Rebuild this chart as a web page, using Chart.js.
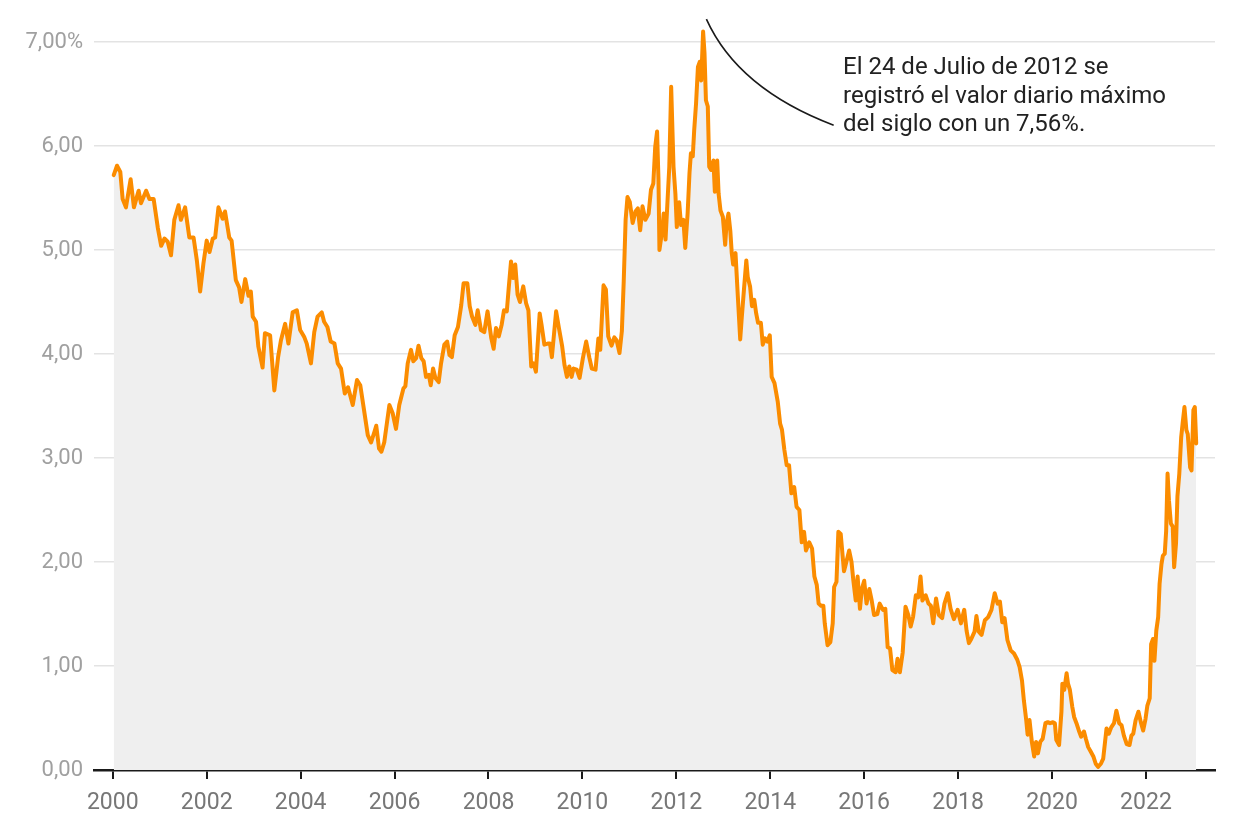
<!DOCTYPE html>
<html>
<head>
<meta charset="utf-8">
<script src="https://cdn.jsdelivr.net/npm/chart.js@4.4.0/dist/chart.umd.min.js"></script>
<style>
  html, body { margin: 0; padding: 0; background: #fff; }
  #wrap { position: relative; width: 1240px; height: 840px; }
  #nota {
    position: absolute; left: 843px; top: 52px;
    font-family: Roboto, sans-serif; font-size: 24px; line-height: 28.5px;
    color: #222;
  }
</style>
</head>
<body>
<div id="wrap">
  <canvas id="grafico" width="1240" height="840"></canvas>
  <div id="nota">El 24 de Julio de 2012 se<br>registró el valor diario máximo<br>del siglo con un 7,56%.</div>
</div>
<script>
// fechas en años decimales, rendimiento en %
var fechas = [
  2000.02,2000.09,2000.16,2000.21,2000.28,2000.38,2000.45,2000.55,2000.60,2000.71,2000.78,2000.87,2000.96,
  2001.03,2001.10,2001.17,2001.24,2001.31,2001.40,2001.45,2001.54,2001.63,2001.72,2001.79,2001.86,2001.93,
  2002.00,2002.06,2002.13,2002.18,2002.25,2002.34,2002.39,2002.48,2002.53,2002.62,2002.69,2002.74,2002.82,2002.89,2002.94,2002.98,
  2003.05,2003.10,2003.19,2003.24,2003.35,2003.44,2003.52,2003.58,2003.67,2003.74,2003.83,2003.92,2003.99,
  2004.08,2004.13,2004.22,2004.29,2004.36,2004.45,2004.50,2004.57,2004.64,2004.72,2004.79,2004.86,2004.94,
  2005.01,2005.11,2005.20,2005.27,2005.35,2005.43,2005.50,2005.57,2005.61,2005.67,2005.72,2005.78,2005.89,2005.96,
  2006.03,2006.10,2006.19,2006.23,2006.28,2006.35,2006.40,2006.46,2006.51,2006.57,2006.62,2006.67,2006.73,2006.77,2006.82,2006.87,2006.94,2006.99,
  2007.06,2007.12,2007.17,2007.22,2007.28,2007.35,2007.42,2007.47,2007.55,2007.60,2007.65,2007.72,2007.77,2007.84,2007.91,2007.98,
  2008.06,2008.11,2008.16,2008.22,2008.28,2008.33,2008.39,2008.43,2008.48,2008.52,2008.57,2008.62,2008.67,2008.74,2008.80,2008.85,2008.91,2008.96,
  2009.01,2009.09,2009.13,2009.19,2009.26,2009.31,2009.35,2009.44,2009.50,2009.57,2009.62,2009.67,2009.72,2009.77,2009.81,2009.88,2009.94,
  2010.01,2010.08,2010.15,2010.20,2010.28,2010.34,2010.38,2010.45,2010.50,2010.55,2010.62,2010.68,2010.73,2010.79,2010.84,2010.88,2010.92,2010.96,
  2011.01,2011.07,2011.13,2011.18,2011.23,2011.28,2011.34,2011.41,2011.46,2011.51,2011.55,2011.59,2011.62,2011.64,2011.70,2011.73,2011.77,2011.82,2011.85,2011.89,2011.94,2011.98,
  2012.01,2012.06,2012.10,2012.15,2012.19,2012.24,2012.28,2012.31,2012.35,2012.38,2012.42,2012.46,2012.50,2012.53,2012.57,2012.60,2012.63,2012.67,2012.70,2012.74,2012.79,2012.82,2012.87,2012.90,2012.94,2012.99,
  2013.04,2013.07,2013.11,2013.15,2013.18,2013.21,2013.26,2013.31,2013.36,2013.39,2013.44,2013.49,2013.52,2013.57,2013.61,2013.66,2013.70,2013.74,2013.80,2013.84,2013.89,2013.94,2013.99,
  2014.03,2014.09,2014.16,2014.21,2014.25,2014.30,2014.35,2014.40,2014.45,2014.51,2014.56,2014.62,2014.67,2014.72,2014.76,2014.83,2014.89,2014.94,2014.99,
  2015.03,2015.08,2015.13,2015.16,2015.22,2015.28,2015.33,2015.36,2015.41,2015.45,2015.50,2015.57,2015.62,2015.68,2015.73,2015.77,2015.82,2015.86,2015.91,2015.95,
  2016.00,2016.05,2016.11,2016.16,2016.21,2016.28,2016.33,2016.40,2016.45,2016.50,2016.55,2016.60,2016.67,2016.71,2016.76,2016.82,2016.88,2016.94,2016.99,
  2017.04,2017.10,2017.15,2017.20,2017.24,2017.31,2017.37,2017.42,2017.47,2017.53,2017.59,2017.66,2017.71,2017.78,2017.84,2017.91,2017.99,
  2018.06,2018.13,2018.18,2018.23,2018.28,2018.35,2018.39,2018.44,2018.50,2018.57,2018.64,2018.71,2018.78,2018.84,2018.89,2018.94,2018.99,
  2019.05,2019.12,2019.19,2019.26,2019.31,2019.36,2019.40,2019.45,2019.48,2019.52,2019.57,2019.62,2019.66,2019.70,2019.75,2019.80,2019.86,2019.91,2019.96,
  2020.02,2020.06,2020.09,2020.15,2020.20,2020.22,2020.26,2020.31,2020.34,2020.38,2020.43,2020.47,2020.52,2020.57,2020.62,2020.68,2020.72,2020.77,2020.82,2020.88,2020.93,2020.98,
  2021.04,2021.09,2021.16,2021.21,2021.26,2021.32,2021.37,2021.43,2021.48,2021.53,2021.59,2021.65,2021.69,2021.73,2021.78,2021.84,2021.89,2021.94,2021.99,
  2022.03,2022.08,2022.11,2022.15,2022.18,2022.22,2022.26,2022.29,2022.33,2022.36,2022.40,2022.43,2022.46,2022.49,2022.53,2022.57,2022.60,2022.64,2022.67,2022.71,2022.75,2022.78,2022.82,2022.86,2022.89,2022.94,2022.97,
  2023.01,2023.04,2023.07
];
var rendimiento = [
  5.72,5.81,5.75,5.49,5.41,5.68,5.41,5.57,5.45,5.57,5.49,5.49,5.21,
  5.04,5.11,5.08,4.95,5.29,5.43,5.29,5.41,5.12,5.12,4.90,4.60,4.87,
  5.09,4.98,5.11,5.12,5.41,5.30,5.37,5.12,5.09,4.71,4.64,4.50,4.72,4.56,4.60,4.36,
  4.31,4.07,3.87,4.20,4.18,3.65,3.97,4.13,4.29,4.10,4.40,4.42,4.23,
  4.16,4.10,3.91,4.21,4.36,4.40,4.31,4.26,4.12,4.10,3.91,3.86,3.62,
  3.68,3.51,3.75,3.70,3.46,3.22,3.15,3.25,3.31,3.09,3.06,3.15,3.51,3.43,
  3.28,3.51,3.67,3.69,3.91,4.04,3.93,3.96,4.08,3.96,3.93,3.78,3.80,3.70,3.86,3.77,3.73,3.91,
  4.09,4.12,3.99,3.97,4.18,4.26,4.47,4.68,4.68,4.46,4.36,4.28,4.42,4.23,4.21,4.41,
  4.15,4.05,4.25,4.17,4.28,4.42,4.41,4.63,4.89,4.73,4.86,4.57,4.50,4.65,4.49,4.42,3.88,3.91,
  3.83,4.39,4.28,4.09,4.10,4.10,3.97,4.41,4.25,4.07,3.89,3.78,3.88,3.78,3.86,3.85,3.77,
  3.96,4.12,3.96,3.86,3.85,4.15,4.04,4.66,4.62,4.17,4.08,4.16,4.13,4.01,4.22,4.70,5.29,5.51,
  5.46,5.26,5.37,5.40,5.19,5.42,5.29,5.35,5.58,5.64,5.99,6.14,5.67,5.00,5.19,5.35,5.10,5.54,5.80,6.57,5.80,5.54,
  5.22,5.46,5.24,5.29,5.02,5.35,5.74,5.93,5.90,6.15,6.41,6.76,6.81,6.63,7.10,6.89,6.44,6.38,5.80,5.77,5.86,5.56,5.86,5.54,5.38,5.32,
  5.05,5.26,5.35,5.18,4.97,4.86,4.97,4.55,4.14,4.33,4.62,4.90,4.74,4.65,4.46,4.52,4.39,4.30,4.30,4.09,4.15,4.12,4.18,
  3.78,3.72,3.54,3.33,3.27,3.08,2.93,2.93,2.66,2.72,2.53,2.50,2.19,2.29,2.11,2.19,2.13,1.86,1.78,
  1.60,1.58,1.58,1.41,1.20,1.23,1.41,1.76,1.81,2.29,2.27,1.91,2.00,2.11,2.00,1.82,1.63,1.86,1.55,1.74,
  1.82,1.60,1.74,1.63,1.49,1.50,1.60,1.54,1.55,1.18,1.17,0.96,0.94,1.07,0.94,1.13,1.57,1.49,1.38,
  1.47,1.68,1.66,1.86,1.63,1.68,1.60,1.58,1.41,1.65,1.49,1.46,1.60,1.70,1.55,1.45,1.54,
  1.41,1.54,1.34,1.22,1.26,1.33,1.48,1.33,1.30,1.44,1.47,1.54,1.70,1.60,1.62,1.42,1.46,
  1.25,1.15,1.12,1.06,0.99,0.86,0.67,0.48,0.34,0.48,0.27,0.13,0.27,0.16,0.27,0.30,0.45,0.46,0.45,
  0.46,0.45,0.29,0.24,0.56,0.83,0.77,0.93,0.83,0.77,0.61,0.51,0.45,0.38,0.32,0.37,0.30,0.22,0.18,0.13,0.06,0.03,
  0.06,0.11,0.40,0.35,0.41,0.45,0.57,0.45,0.43,0.33,0.25,0.24,0.33,0.35,0.48,0.56,0.46,0.38,0.49,
  0.62,0.69,1.21,1.26,1.05,1.34,1.47,1.79,1.98,2.06,2.08,2.30,2.85,2.59,2.37,2.34,1.95,2.18,2.63,2.85,3.20,3.33,3.49,3.27,3.23,2.91,2.88,
  3.46,3.49,3.14
];
var añosEje = [2000, 2002, 2004, 2006, 2008, 2010, 2012, 2014, 2016, 2018, 2020, 2022];
var valoresEje = [0, 1, 2, 3, 4, 5, 6, 7];

var puntos = [];
for (var i = 0; i < fechas.length; i++) {
  puntos.push({ x: fechas[i], y: rendimiento[i] });
}

// linea curva de la nota, anclada a valores de los ejes
var notaLinea = {
  id: 'notaLinea',
  afterDatasetsDraw: function (chart) {
    var xs = chart.scales.x, ys = chart.scales.y, ctx = chart.ctx;
    ctx.save();
    ctx.strokeStyle = '#1a1a1a';
    ctx.lineWidth = 1.6;
    ctx.beginPath();
    ctx.moveTo(xs.getPixelForValue(2012.64), ys.getPixelForValue(7.22));
    ctx.quadraticCurveTo(xs.getPixelForValue(2013.31), ys.getPixelForValue(6.55),
                         xs.getPixelForValue(2015.35), ys.getPixelForValue(6.2));
    ctx.stroke();
    ctx.restore();
  }
};

new Chart(document.getElementById('grafico'), {
  type: 'line',
  data: {
    datasets: [{
      data: puntos,
      borderColor: '#fb8c00',
      backgroundColor: '#efefef',
      borderWidth: 4,
      borderJoinStyle: 'round',
      borderCapStyle: 'round',
      pointRadius: 0,
      tension: 0,
      fill: 'origin',
      clip: false
    }]
  },
  options: {
    responsive: false,
    animation: false,
    layout: { padding: { top: 42, right: 25, left: 0, bottom: 0 } },
    plugins: { legend: { display: false }, tooltip: { enabled: false } },
    scales: {
      x: {
        type: 'linear',
        min: 1999.6,
        max: 2023.47,
        afterBuildTicks: function (s) { s.ticks = añosEje.map(function (v) { return { value: v }; }); },
        afterFit: function (s) { s.height = 70; },
        grid: { drawOnChartArea: false, drawTicks: true, tickLength: 9, color: '#1a1a1a', lineWidth: 2 },
        border: { display: true, color: '#1a1a1a', width: 2.5 },
        ticks: {
          color: '#777',
          padding: 10,
          maxRotation: 0,
          font: { family: 'Roboto', size: 23 },
          callback: function (v) { return String(v); }
        }
      },
      y: {
        min: 0,
        max: 7,
        afterBuildTicks: function (s) { s.ticks = valoresEje.map(function (v) { return { value: v }; }); },
        afterFit: function (s) { s.width = 94; },
        grid: { drawTicks: false, color: '#e3e3e3', lineWidth: 1.5 },
        border: { display: false },
        ticks: {
          color: '#a0a0a0',
          padding: 11,
          font: { family: 'Roboto', size: 22 },
          callback: function (v) {
            var t = v.toFixed(2).replace('.', ',');
            return v === 7 ? t + '%' : t;
          }
        }
      }
    }
  },
  plugins: [notaLinea]
});
</script>
</body>
</html>
